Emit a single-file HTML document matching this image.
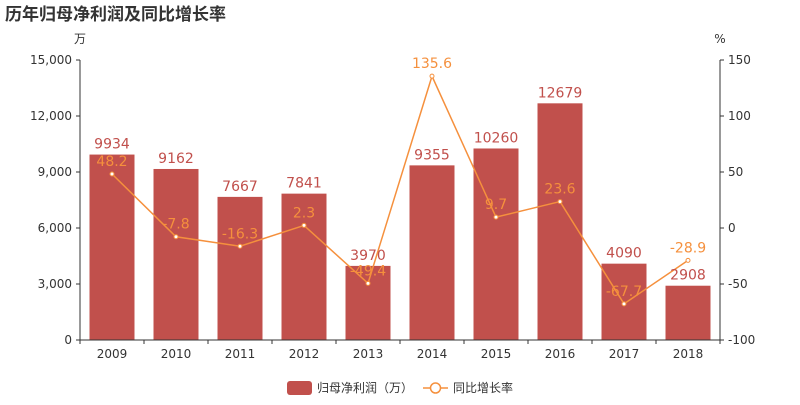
<!DOCTYPE html>
<html><head><meta charset="utf-8"><style>
body{margin:0;background:#fff;}
svg text{font-family:"DejaVu Sans","Liberation Sans","Noto Sans CJK SC",sans-serif;}
</style></head><body>
<svg id="chart" width="800" height="400" xmlns="http://www.w3.org/2000/svg">
<text x="5" y="20" font-size="17" font-weight="bold" fill="#333">历年归母净利润及同比增长率</text>
<text x="80" y="43" font-size="12" fill="#333" text-anchor="middle">万</text>
<text x="720" y="43" font-size="12" fill="#333" text-anchor="middle">%</text>
<g id="grid"></g><g id="bars"></g><g id="line"></g><g id="axes"></g><g id="labels"></g>
<g>
<rect x="287" y="381" width="25" height="14" rx="3" fill="#c1504c"/>
<text x="317" y="392" font-size="12" fill="#333">归母净利润（万）</text>
<line x1="423" y1="388" x2="448" y2="388" stroke="#f5903d" stroke-width="1.5"/>
<circle cx="435.5" cy="388" r="5" fill="#fff" stroke="#f5903d" stroke-width="1.5"/>
<text x="453" y="392" font-size="12" fill="#333">同比增长率</text>
</g>
</svg>
<script>
const categories=["2009","2010","2011","2012","2013","2014","2015","2016","2017","2018"];
const profit=[9934,9162,7667,7841,3970,9355,10260,12679,4090,2908];
const growth=[48.2,-7.8,-16.3,2.3,-49.4,135.6,9.7,23.6,-67.7,-28.9];
const leftTicks=[0,3000,6000,9000,12000,15000];
const rightTicks=[-100,-50,0,50,100,150];
const NS="http://www.w3.org/2000/svg";
const L=80,R=720,T=60,B=340,step=(R-L)/categories.length,bw=45;
const x=i=>L+step*(i+0.5);
const yl=v=>B-(v/15000)*(B-T);
const yr=v=>B-((v+100)/250)*(B-T);
function mk(tag,attrs,parent,txt){const e=document.createElementNS(NS,tag);for(const k in attrs)e.setAttribute(k,attrs[k]);if(txt!==undefined)e.textContent=txt;document.getElementById(parent).appendChild(e);return e;}
const fmt=v=>v.toLocaleString('en-US');
leftTicks.forEach(v=>{
 const t=mk('text',{x:L-8,y:yl(v)+4,'font-size':12,fill:'#333','text-anchor':'end'},'axes',fmt(v));
 
 
 mk('line',{x1:L-4,x2:L,y1:yl(v),y2:yl(v),stroke:'#333'},'axes');
});
rightTicks.forEach(v=>{
 const t=mk('text',{x:R+8,y:yr(v)+4,'font-size':12,fill:'#333','text-anchor':'start'},'axes',v);
 
 
 mk('line',{x1:R,x2:R+4,y1:yr(v),y2:yr(v),stroke:'#333'},'axes');
});
mk('line',{x1:L,x2:L,y1:T,y2:B,stroke:'#333'},'axes');
mk('line',{x1:R,x2:R,y1:T,y2:B,stroke:'#333'},'axes');
mk('line',{x1:L,x2:R,y1:B,y2:B,stroke:'#333'},'axes');
for(let i=0;i<=categories.length;i++)mk('line',{x1:L+step*i,x2:L+step*i,y1:B,y2:B+4,stroke:'#333'},'axes');
categories.forEach((c,i)=>{
 const t=mk('text',{x:x(i),y:B+18,'font-size':12,fill:'#333','text-anchor':'middle'},'axes',c);
 
 
 const b=mk('rect',{x:x(i)-bw/2,y:yl(profit[i]),width:bw,height:B-yl(profit[i]),fill:'#c1504c'},'bars');
 
 
 const bl=mk('text',{x:x(i),y:yl(profit[i])-6,'font-size':14,fill:'#c1504c','text-anchor':'middle'},'labels',profit[i]);
 
 
});
const pts=growth.map((g,i)=>x(i)+','+yr(g)).join(' ');
const pl=mk('polyline',{points:pts,fill:'none',stroke:'#f5903d','stroke-width':1.5},'line');


growth.forEach((g,i)=>{
 const c=mk('circle',{cx:x(i),cy:yr(g),r:2,fill:'#fff',stroke:'#f5903d','stroke-width':1},'line');
 
 
 const t=mk('text',{x:x(i),y:yr(g)-8,'font-size':14,fill:'#f5903d','text-anchor':'middle'},'labels',g);
 
 
});
</script>
</body></html>
